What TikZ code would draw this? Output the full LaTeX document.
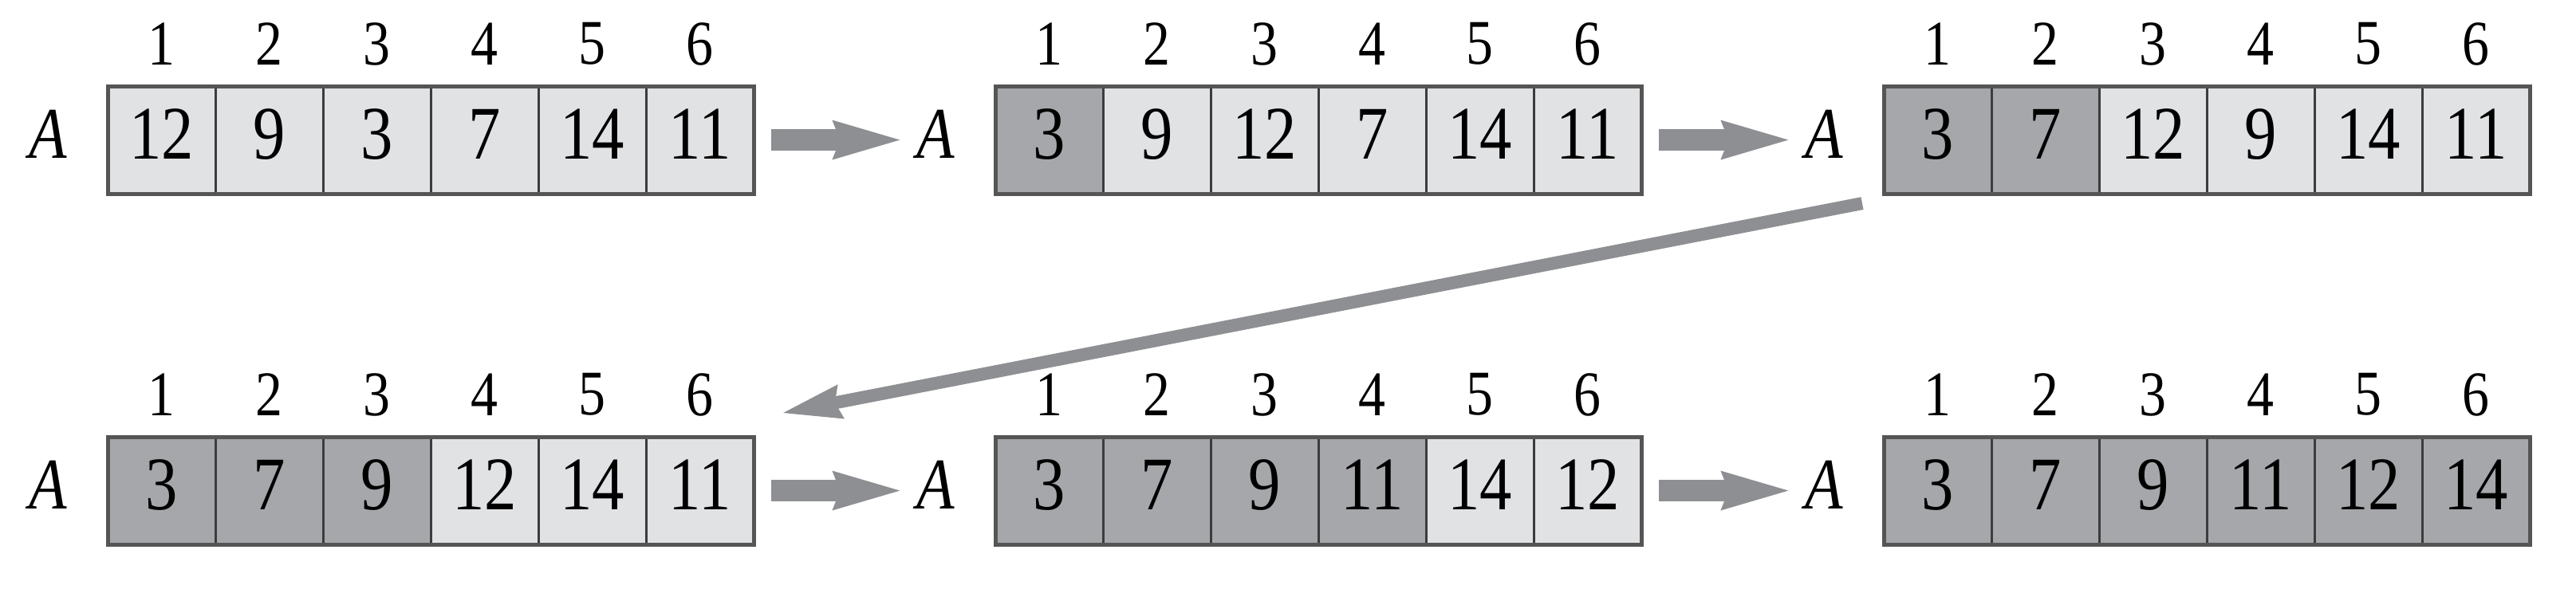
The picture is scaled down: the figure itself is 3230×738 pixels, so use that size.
\documentclass[tikz,border=0pt]{standalone}
\usepackage{fontspec}
\setmainfont[FakeStretch=0.85]{Liberation Serif}
\usetikzlibrary{arrows.meta}
\definecolor{celllight}{HTML}{E1E2E4}
\definecolor{celldark}{HTML}{A6A7AA}
\definecolor{arrowgray}{HTML}{8E8F92}
\definecolor{outergray}{HTML}{555555}
\definecolor{linegray}{HTML}{3C3C3C}
\newcommand\drawarr[4]{%
  \foreach \v/\s [count=\i] in {#4} {
    \node[cell,fill=\s,anchor=north west] (a#1c\i) at ({#2+(\i-1)*135},#3) {\v};
    \node[idx] (i#1c\i) at ([yshift=0.53cm]a#1c\i.north) {\i};
  }
  \draw[outerbox] (a#1c1.north west) rectangle (a#1c6.south east);
  \node[alab] (A#1) at ([xshift=-0.75cm]a#1c1.west) {\textit{A}};
}
\begin{document}
\begin{tikzpicture}[x=0.01cm,y=-0.01cm,
  cell/.style={draw=linegray,line width=0.03cm,minimum width=1.35cm,minimum height=1.35cm,
    inner sep=0pt,outer sep=0pt,text depth=0.14cm,font=\fontsize{27pt}{30pt}\selectfont},
  idx/.style={inner sep=0pt,font=\fontsize{22.7pt}{26pt}\selectfont},
  alab/.style={inner sep=0pt,text depth=0.14cm,font=\fontsize{26pt}{30pt}\selectfont},
  outerbox/.style={draw=outergray,line width=0.05cm},
  harrow/.style={draw=arrowgray,line width=0.27cm,
    -{Stealth[length=0.85cm,width=0.5cm,inset=0.1cm,line width=0pt]}},
  darrow/.style={draw=arrowgray,line width=0.16cm,
    -{Stealth[length=0.74cm,width=0.44cm,inset=0.08cm,line width=0pt]}}
]
\useasboundingbox (0,0) rectangle (3230,738);
\drawarr{1}{135}{108}{12/celllight,9/celllight,3/celllight,7/celllight,14/celllight,11/celllight}
\drawarr{2}{1248}{108}{3/celldark,9/celllight,12/celllight,7/celllight,14/celllight,11/celllight}
\drawarr{3}{2362}{108}{3/celldark,7/celldark,12/celllight,9/celllight,14/celllight,11/celllight}
\drawarr{4}{135}{548}{3/celldark,7/celldark,9/celldark,12/celllight,14/celllight,11/celllight}
\drawarr{5}{1248}{548}{3/celldark,7/celldark,9/celldark,11/celldark,14/celllight,12/celllight}
\drawarr{6}{2362}{548}{3/celldark,7/celldark,9/celldark,11/celldark,12/celldark,14/celldark}
\draw[harrow] ([xshift=0.22cm]a1c6.east) -- ([xshift=-0.2cm]A2.west);
\draw[harrow] ([xshift=0.22cm]a2c6.east) -- ([xshift=-0.2cm]A3.west);
\draw[harrow] ([xshift=0.22cm]a4c6.east) -- ([xshift=-0.2cm]A5.west);
\draw[harrow] ([xshift=0.22cm]a5c6.east) -- ([xshift=-0.2cm]A6.west);
\draw[darrow] ([shift={(-27,12)}]a3c1.south west) -- ([shift={(37,-30)}]a4c6.north east);
\end{tikzpicture}
\end{document}
